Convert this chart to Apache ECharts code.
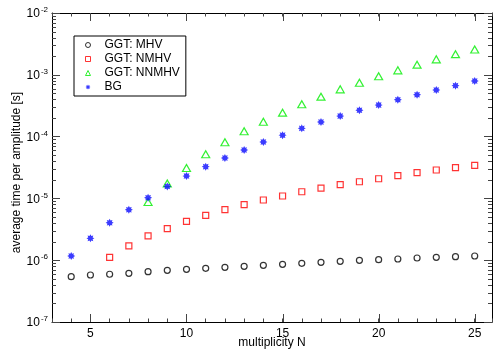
<!DOCTYPE html>
<html>
<head>
<meta charset="utf-8">
<script src="https://cdn.jsdelivr.net/npm/echarts/dist/echarts.min.js"></script>
<style>
  html, body { margin: 0; padding: 0; background: #fff; }
  #chart { width: 493px; height: 350px; }
</style>
</head>
<body>
<div id="chart"></div>
<script>
// series names
var names = ['GGT: MHV', 'GGT: NMHV', 'GGT: NNMHV', 'BG']

// first multiplicity of each series, then values (seconds) for N = start .. 25
var mhvStart = 4
var mhv = [5.41e-7, 5.76e-7, 5.92e-7, 6.14e-7, 6.52e-7, 6.87e-7, 7.13e-7, 7.40e-7, 7.68e-7, 7.96e-7, 8.26e-7,
  8.59e-7, 8.91e-7, 9.25e-7, 9.60e-7, 9.96e-7, 1.02e-6, 1.045e-6, 1.086e-6, 1.114e-6, 1.14e-6, 1.17e-6]

var nmhvStart = 6
var nmhv = [1.114e-6, 1.70e-6, 2.47e-6, 3.24e-6, 4.26e-6, 5.33e-6, 6.56e-6, 7.91e-6, 9.42e-6, 1.094e-5,
  1.28e-5, 1.47e-5, 1.67e-5, 1.86e-5, 2.08e-5, 2.33e-5, 2.61e-5, 2.88e-5, 3.14e-5, 3.43e-5]

var nnmhvStart = 8
var nnmhv = [8.75e-6, 1.75e-5, 3.10e-5, 5.19e-5, 8.09e-5, 1.22e-4, 1.74e-4, 2.44e-4, 3.33e-4, 4.43e-4,
  5.82e-4, 7.45e-4, 9.46e-4, 1.18e-3, 1.46e-3, 1.78e-3, 2.16e-3, 2.57e-3]

var bgStart = 4
var bg = [1.17e-6, 2.26e-6, 4.04e-6, 6.56e-6, 1.026e-5, 1.56e-5, 2.30e-5, 3.26e-5, 4.51e-5, 6.07e-5, 8.18e-5,
  1.054e-4, 1.36e-4, 1.72e-4, 2.15e-4, 2.67e-4, 3.24e-4, 3.95e-4, 4.76e-4, 5.68e-4, 6.67e-4, 7.94e-4]

// tick labels
var xMajorTicks = [5, 10, 15, 20, 25]
var yDecadeExps = [-7, -6, -5, -4, -3, -2]
var yMinorMult = [2, 3, 4, 5, 6, 7, 8, 9]

var font = 'Liberation Sans, Arial, Helvetica, sans-serif'
// 8-point star, a bit fat, for the BG marks
var starPath = 'path://M20,10L15.5,12.3L17.07,17.07L12.3,15.5L10,20L7.7,15.5L2.93,17.07L4.5,12.3L0,10L4.5,7.7L2.93,2.93L7.7,4.5L10,0L12.3,4.5L17.07,2.93L15.5,7.7Z'

function toPoints(start, vals) {
  return vals.map(function (v, i) { return [start + i, v] })
}

// extra tick marks (major x ticks, minor log ticks) placed through the axes
var tickData = []
xMajorTicks.forEach(function (x) { tickData.push([x, 1e-7, 0]) })
yDecadeExps.slice(0, -1).forEach(function (e) {
  yMinorMult.forEach(function (m) { tickData.push([3, m * Math.pow(10, e), 1]) })
})

function renderTicks(params, api) {
  var cs = params.coordSys
  var kind = api.value(2)
  var p = api.coord([api.value(0), api.value(1)])
  var st = { stroke: '#444', lineWidth: 1 }
  if (kind === 0) {
    var x = Math.round(p[0]) + 0.5
    var b = cs.y + cs.height
    return {
      type: 'group', children: [
        { type: 'line', shape: { x1: x, y1: b, x2: x, y2: b - 8 }, style: st },
        { type: 'line', shape: { x1: x, y1: cs.y, x2: x, y2: cs.y + 8 }, style: st }
      ]
    }
  }
  var y = Math.round(p[1]) + 0.5
  var r = cs.x + cs.width
  return {
    type: 'group', children: [
      { type: 'line', shape: { x1: cs.x, y1: y, x2: cs.x + 4, y2: y }, style: st },
      { type: 'line', shape: { x1: r - 4, y1: y, x2: r, y2: y }, style: st }
    ]
  }
}

var chart = echarts.init(document.getElementById('chart'))

var xBase = {
  type: 'value',
  min: 3,
  max: 25.9,
  interval: 1,
  axisLine: { lineStyle: { color: '#000', width: 1 } },
  axisTick: { inside: true, length: 3.5, lineStyle: { color: '#444' } },
  splitLine: { show: false }
}

var yBase = {
  type: 'log',
  logBase: 10,
  min: 1e-7,
  max: 1e-2,
  axisLine: { show: true, lineStyle: { color: '#000', width: 1 } },
  axisTick: { inside: true, length: 8, lineStyle: { color: '#444' } },
  splitLine: { show: false },
  minorTick: { show: false }
}

var option = {
  animation: false,
  textStyle: { fontFamily: font },
  grid: { left: 52, top: 13, width: 440, height: 309, outerBoundsMode: 'none', containLabel: false },
  legend: {
    orient: 'vertical',
    left: 74,
    top: 36,
    data: names,
    itemWidth: 5,
    itemHeight: 5,
    itemGap: 0,
    padding: [2, 6, 2, 11],
    borderColor: '#000',
    borderWidth: 1,
    backgroundColor: '#fff',
    itemStyle: { borderWidth: 1 },
    textStyle: { fontFamily: font, fontSize: 12, color: '#000', lineHeight: 14, padding: [0, 0, 0, 9] }
  },
  xAxis: [
    Object.assign({}, xBase, {
      position: 'bottom',
      name: 'multiplicity N',
      nameLocation: 'middle',
      nameGap: 15,
      nameMoveOverlap: false,
      nameTextStyle: { fontFamily: font, fontSize: 12, color: '#000' },
      axisLabel: {
        fontFamily: font, fontSize: 12, color: '#000', margin: 6,
        formatter: function (v) { return xMajorTicks.indexOf(v) >= 0 ? String(v) : '' }
      }
    }),
    Object.assign({}, xBase, { position: 'top', axisLabel: { show: false } })
  ],
  yAxis: [
    Object.assign({}, yBase, {
      position: 'left',
      name: 'average time per amplitude [s]',
      nameLocation: 'middle',
      nameGap: 29,
      nameMoveOverlap: false,
      nameTextStyle: { fontFamily: font, fontSize: 12, color: '#000', padding: [0, 10, 0, 0] },
      axisLabel: {
        margin: 4,
        formatter: function (v) {
          var e = Math.round(Math.log10(v))
          return '{b|10}{s|' + e + '}'
        },
        rich: {
          b: { fontFamily: font, fontSize: 12, color: '#000', verticalAlign: 'bottom' },
          s: { fontFamily: font, fontSize: 8, color: '#000', verticalAlign: 'bottom', padding: [0, 0, 6, 1] }
        }
      }
    }),
    Object.assign({}, yBase, { position: 'right', axisLabel: { show: false } })
  ],
  series: [
    {
      type: 'custom',
      silent: true,
      clip: false,
      renderItem: renderTicks,
      data: tickData,
      z: 1
    },
    {
      name: names[0], type: 'scatter', symbol: 'circle', symbolSize: 6,
      itemStyle: { color: 'rgba(0,0,0,0)', borderColor: '#000', borderWidth: 1.2 },
      data: toPoints(mhvStart, mhv), z: 3
    },
    {
      name: names[1], type: 'scatter', symbol: 'rect', symbolSize: 6,
      itemStyle: { color: 'rgba(0,0,0,0)', borderColor: '#ff0000', borderWidth: 1.2 },
      data: toPoints(nmhvStart, nmhv), z: 3
    },
    {
      name: names[2], type: 'scatter', symbol: 'triangle', symbolSize: [8, 7],
      itemStyle: { color: 'rgba(0,0,0,0)', borderColor: '#00ee00', borderWidth: 1.2 },
      data: toPoints(nnmhvStart, nnmhv), z: 3
    },
    {
      name: names[3], type: 'scatter', symbol: starPath, symbolSize: 8,
      itemStyle: { color: '#0a0aff' },
      data: toPoints(bgStart, bg), z: 4
    }
  ]
}

chart.setOption(option)
</script>
</body>
</html>
